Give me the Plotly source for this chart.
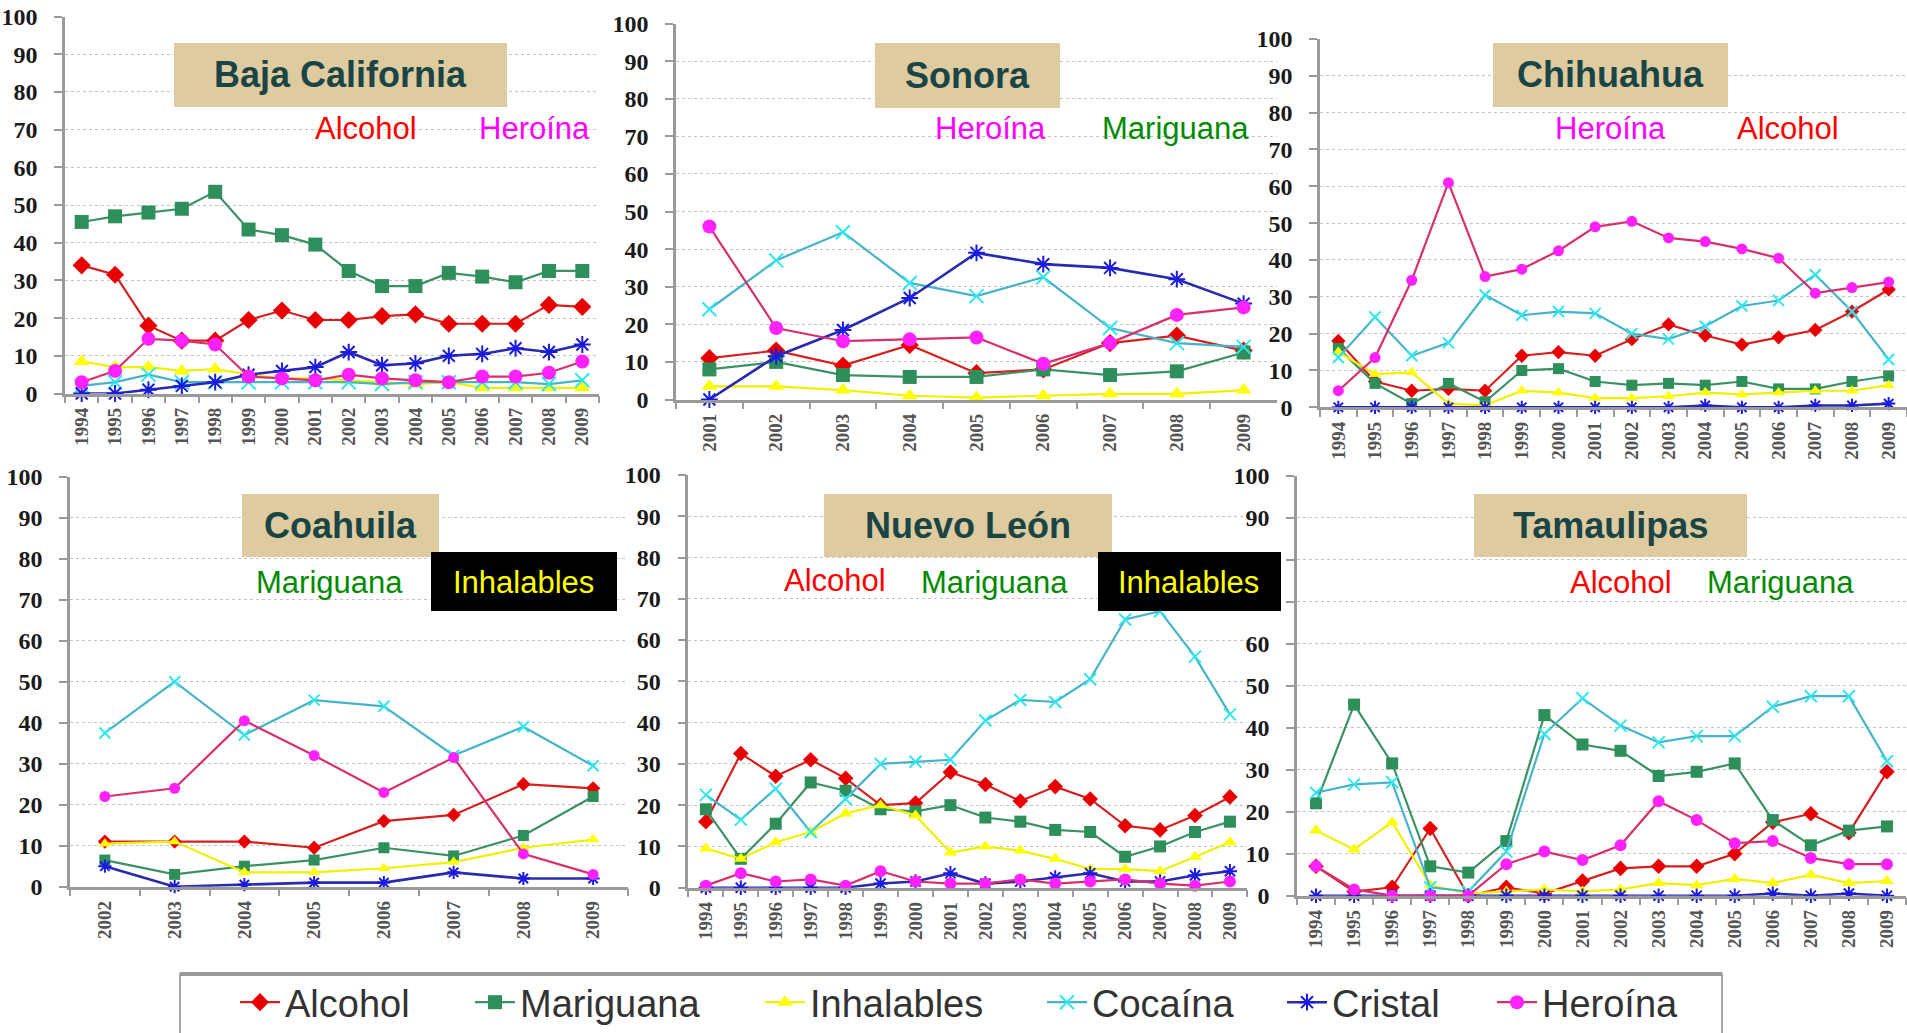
import plotly.graph_objects as go

W, H = 1907, 1033

# ---------------- DATA ----------------
series_names = ["Alcohol", "Mariguana", "Inhalables", "Cocaína", "Cristal", "Heroína"]

years_94 = [str(y) for y in range(1994, 2010)]
years_01 = [str(y) for y in range(2001, 2010)]
years_02 = [str(y) for y in range(2002, 2010)]

# Baja California 1994-2009
bc_alcohol = [34, 31.5, 18, 14, 14, 19.5, 22, 19.5, 19.5, 20.5, 21, 18.5, 18.5, 18.5, 23.5, 23]
bc_mariguana = [45.5, 47, 48, 49, 53.5, 43.5, 42, 39.5, 32.5, 28.5, 28.5, 32, 31, 29.5, 32.5, 32.5]
bc_inhalables = [8.5, 7, 7, 6, 6.5, 5, 4, 4, 3.5, 3, 2.5, 3, 1.5, 1.5, 1.5, 1.5]
bc_cocaina = [2, 3, 5, 3, 3, 3, 3, 3, 3, 2.5, 3, 3, 3, 3, 2.5, 3.5]
bc_cristal = [0, 0, 1, 2, 3, 5, 6, 7, 11, 7.5, 8, 10, 10.5, 12, 11, 13]
bc_heroina = [3, 6, 14.5, 14, 13, 4.5, 4, 3.5, 5, 4, 3.5, 3, 4.5, 4.5, 5.5, 8.5]

# Sonora 2001-2009
so_alcohol = [11, 13, 9, 14.5, 7, 8, 15, 17, 13]
so_mariguana = [8, 10, 6.5, 6, 6, 8, 6.5, 7.5, 12.5]
so_inhalables = [3.5, 3.5, 2.5, 1, 0.5, 1, 1.5, 1.5, 2.5]
so_cocaina = [24, 37, 44.5, 31, 27.5, 32.5, 19, 15, 14]
so_cristal = [0, 11.5, 18.5, 27, 39, 36, 35, 32, 25.5]
so_heroina = [46, 19, 15.5, 16, 16.5, 9.5, 15, 22.5, 24.5]

# Chihuahua 1994-2009
ch_alcohol = [18, 7, 4.5, 5, 4.5, 14, 15, 14, 18.5, 22.5, 19.5, 17, 19, 21, 26, 32]
ch_mariguana = [16, 6.5, 1, 6.5, 1.5, 10, 10.5, 7, 6, 6.5, 6, 7, 5, 5, 7, 8.5]
ch_inhalables = [15, 9, 9.5, 1, 0.5, 4.5, 4, 2.5, 2.5, 3, 4, 3.5, 4, 4.5, 4.5, 6]
ch_cocaina = [13.5, 24.5, 14, 17.5, 30.5, 25, 26, 25.5, 20, 18.5, 22, 27.5, 29, 36, 26, 13]
ch_cristal = [0, 0, 0, 0, 0, 0, 0, 0, 0, 0, 0.5, 0, 0, 0.5, 0.5, 1]
ch_heroina = [4.5, 13.5, 34.5, 61, 35.5, 37.5, 42.5, 49, 50.5, 46, 45, 43, 40.5, 31, 32.5, 34]

# Coahuila 2002-2009
co_alcohol = [11, 11, 11, 9.5, 16, 17.5, 25, 24]
co_mariguana = [6.5, 3, 5, 6.5, 9.5, 7.5, 12.5, 22]
co_inhalables = [10.5, 11, 3.5, 3.5, 4.5, 6, 9.5, 11.5]
co_cocaina = [37.5, 50, 37, 45.5, 44, 32, 39, 29.5]
co_cristal = [5, 0, 0.5, 1, 1, 3.5, 2, 2]
co_heroina = [22, 24, 40.5, 32, 23, 31.5, 8, 3]

# Nuevo León 1994-2009
nl_alcohol = [16, 32.5, 27, 31, 26.5, 20, 20.5, 28, 25, 21, 24.5, 21.5, 15, 14, 17.5, 22]
nl_mariguana = [19, 7, 15.5, 25.5, 23.5, 19, 18.5, 20, 17, 16, 14, 13.5, 7.5, 10, 13.5, 16]
nl_inhalables = [9.5, 7, 11, 13.5, 18, 20, 17.5, 8.5, 10, 9, 7, 4.5, 4.5, 4, 7.5, 11]
nl_cocaina = [22.5, 16.5, 24, 13.5, 21.5, 30, 30.5, 31, 40.5, 45.5, 45, 50.5, 65, 67, 56, 42]
nl_cristal = [0, 0, 0, 0, 0, 1, 1.5, 3.5, 1, 1.5, 2.5, 3.5, 1.5, 1.5, 3, 4]
nl_heroina = [0.5, 3.5, 1.5, 2, 0.5, 4, 1.5, 1, 1, 2, 1, 1.5, 2, 1, 0.5, 1.5]

# Tamaulipas 1994-2009
ta_alcohol = [7, 1, 2, 16, 0, 2, 0.5, 3.5, 6.5, 7, 7, 10, 17.5, 19.5, 15, 29.5]
ta_mariguana = [22, 45.5, 31.5, 7, 5.5, 13, 43, 36, 34.5, 28.5, 29.5, 31.5, 18, 12, 15.5, 16.5]
ta_inhalables = [15.5, 11, 17.5, 2.5, 0.5, 1, 1.5, 1, 1.5, 3, 2.5, 4, 3, 5, 3, 3.5]
ta_cocaina = [24.5, 26.5, 27, 2, 1, 10.5, 38.5, 47, 40.5, 36.5, 38, 38, 45, 47.5, 47.5, 32]
ta_cristal = [0, 0, 0, 0, 0, 0, 0, 0, 0, 0, 0, 0, 0.5, 0, 0.5, 0]
ta_heroina = [7, 1.5, 0, 0, 0, 7.5, 10.5, 8.5, 12, 22.5, 18, 12.5, 13, 9, 7.5, 7.5]

y_ticks = [0, 10, 20, 30, 40, 50, 60, 70, 80, 90, 100]
y_ticktext = ["0", "10", "20", "30", "40", "50", "60", "70", "80", "90", "100"]
# Tamaulipas: 70 and 80 are hidden behind the "Inhalables" box in the reference
y_ticktext_ta = ["0", "10", "20", "30", "40", "50", "60", "", "", "90", "100"]

# ---------------- STYLES ----------------
styles = {
    "Alcohol": dict(line="#d42020", symbol="diamond", mcolor="#e80000", lcol=None),
    "Mariguana": dict(line="#3a9264", symbol="square", mcolor="#2e8f5a", lcol=None),
    "Inhalables": dict(line="#f0f000", symbol="triangle-up", mcolor="#ffff00", lcol=None),
    "Cocaína": dict(line="#45b4c8", symbol="x-thin", mcolor="#30e6f0", lcol="#30e6f0"),
    "Cristal": dict(line="#2a2ab0", symbol="asterisk", mcolor="#1a1ae0", lcol="#1a1ae0"),
    "Heroína": dict(line="#d8306e", symbol="circle", mcolor="#ff22ff", lcol=None),
}

panels = [
    dict(title="Baja California", years=years_94,
         data=[bc_alcohol, bc_mariguana, bc_inhalables, bc_cocaina, bc_cristal, bc_heroina],
         xpx=(65, 599), ypx=(16.5, 393.5), msize=14, box=(174, 507, 43, 107), ttext=y_ticktext,
         labels=[("Alcohol", "#ff0000", 366, 128), ("Heroína", "#ff00ff", 534, 128)], black=None),
    dict(title="Sonora", years=years_01,
         data=[so_alcohol, so_mariguana, so_inhalables, so_cocaina, so_cristal, so_heroina],
         xpx=(676, 1277), ypx=(23.5, 399.5), msize=14, box=(875, 1060, 43, 108), ttext=y_ticktext,
         labels=[("Heroína", "#ff00ff", 990, 129), ("Mariguana", "#008a00", 1175, 129)], black=None),
    dict(title="Chihuahua", years=years_94,
         data=[ch_alcohol, ch_mariguana, ch_inhalables, ch_cocaina, ch_cristal, ch_heroina],
         xpx=(1320, 1907), ypx=(39, 407.3), msize=11, box=(1493, 1728, 43, 107), ttext=y_ticktext,
         labels=[("Heroína", "#ff00ff", 1610, 129), ("Alcohol", "#ff0000", 1788, 129)], black=None),
    dict(title="Coahuila", years=years_02,
         data=[co_alcohol, co_mariguana, co_inhalables, co_cocaina, co_cristal, co_heroina],
         xpx=(70, 628), ypx=(476.7, 886.7), msize=11, box=(242, 439, 494, 557), ttext=y_ticktext,
         labels=[("Mariguana", "#008a00", 329, 582)], black=(431, 617, 552, 611, 523, 582)),
    dict(title="Nuevo León", years=years_94,
         data=[nl_alcohol, nl_mariguana, nl_inhalables, nl_cocaina, nl_cristal, nl_heroina],
         xpx=(688.4, 1247.4), ypx=(475, 887.7), msize=12, box=(824, 1112, 494, 557), ttext=y_ticktext,
         labels=[("Alcohol", "#ff0000", 835, 580), ("Mariguana", "#008a00", 994, 582)],
         black=(1098, 1281, 552, 611, 1188, 582)),
    dict(title="Tamaulipas", years=years_94,
         data=[ta_alcohol, ta_mariguana, ta_inhalables, ta_cocaina, ta_cristal, ta_heroina],
         xpx=(1297, 1906), ypx=(475.7, 895.7), msize=12, box=(1474, 1747, 494, 557), ttext=y_ticktext_ta,
         labels=[("Alcohol", "#ff0000", 1621, 582), ("Mariguana", "#008a00", 1780, 582)], black=None),
]


def px_x(x):
    return x / W


def px_y(y):
    return 1 - y / H


fig = go.Figure()
legend_ids = ["legend", "legend2", "legend3", "legend4", "legend5", "legend6"]
legend_text_x = [283, 518, 808, 1090, 1330, 1540]

shapes = []
annotations = []
layout = {}

for pi, p in enumerate(panels):
    n = pi + 1
    xa = "x" if n == 1 else f"x{n}"
    ya = "y" if n == 1 else f"y{n}"
    for si, name in enumerate(series_names):
        st = styles[name]
        mk = dict(symbol=st["symbol"], size=p["msize"], color=st["mcolor"])
        if st["lcol"]:
            mk["line"] = dict(width=2, color=st["lcol"])
        fig.add_trace(go.Scatter(
            x=p["years"], y=p["data"][si], name=name, mode="lines+markers",
            line=dict(color=st["line"], width=2.2 if name != "Cristal" else 2.6),
            marker=mk, xaxis=xa, yaxis=ya, cliponaxis=False,
            showlegend=(pi == 0), legend=legend_ids[si], hoverinfo="x+y+name",
        ))
    x0, x1 = p["xpx"]
    ytop, ybot = p["ypx"]
    nyr = len(p["years"])
    layout["xaxis" if n == 1 else f"xaxis{n}"] = dict(
        domain=[px_x(x0), px_x(x1)], anchor=ya, type="category",
        range=[-0.5, nyr - 0.5], showgrid=False, zeroline=False, automargin=False,
        showline=True, linecolor="#9a9a9a", linewidth=2.5,
        ticks="outside", tickson="boundaries", ticklen=7, tickwidth=2, tickcolor="#9a9a9a",
        tickangle=-90, ticklabelstandoff=4,
        tickfont=dict(family="Liberation Serif", size=19, color="#555555", weight="bold"),
    )
    layout["yaxis" if n == 1 else f"yaxis{n}"] = dict(
        domain=[px_y(ybot), px_y(ytop)], anchor=xa, range=[0, 100], automargin=False,
        tickvals=y_ticks, ticktext=p["ttext"], showgrid=True, gridcolor="#c4c4c4", griddash="dot",
        gridwidth=1.3, zeroline=False, showline=True, linecolor="#9a9a9a", linewidth=2.5,
        ticks="outside", ticklen=8, tickwidth=2, tickcolor="#9a9a9a", ticklabelstandoff=12,
        tickfont=dict(family="Liberation Serif", size=24, color="#1a1a1a", weight="bold"),
    )
    bx0, bx1, by0, by1 = p["box"]
    shapes.append(dict(type="rect", xref="paper", yref="paper",
                       x0=px_x(bx0), x1=px_x(bx1), y0=px_y(by1), y1=px_y(by0),
                       fillcolor="#decba0", line=dict(width=0), layer="above"))
    annotations.append(dict(text=f"<b>{p['title']}</b>", xref="paper", yref="paper",
                            x=px_x((bx0 + bx1) / 2), y=px_y((by0 + by1) / 2),
                            xanchor="center", yanchor="middle", showarrow=False,
                            font=dict(family="Liberation Sans", size=36, color="#1b4545")))
    for (txt, col, cx, cy) in p["labels"]:
        annotations.append(dict(text=txt, xref="paper", yref="paper", x=px_x(cx), y=px_y(cy),
                                xanchor="center", yanchor="middle", showarrow=False,
                                font=dict(family="Liberation Sans", size=31, color=col)))
    if p["black"]:
        kx0, kx1, ky0, ky1, tx, ty = p["black"]
        shapes.append(dict(type="rect", xref="paper", yref="paper",
                           x0=px_x(kx0), x1=px_x(kx1), y0=px_y(ky1), y1=px_y(ky0),
                           fillcolor="#000000", line=dict(width=0), layer="above"))
        annotations.append(dict(text="Inhalables", xref="paper", yref="paper", x=px_x(tx), y=px_y(ty),
                                xanchor="center", yanchor="middle", showarrow=False,
                                font=dict(family="Liberation Sans", size=31, color="#ffff00")))

# legend frame
shapes.append(dict(type="rect", xref="paper", yref="paper",
                   x0=px_x(180), x1=px_x(1722), y0=px_y(1045), y1=px_y(974),
                   fillcolor="rgba(255,255,255,0)", line=dict(width=1.5, color="#8a8a8a"), layer="below"))
shapes.append(dict(type="line", xref="paper", yref="paper",
                   x0=px_x(180), x1=px_x(1722), y0=px_y(974), y1=px_y(974),
                   line=dict(width=4, color="#9a9a9a"), layer="above"))

for i, lid in enumerate(legend_ids):
    layout[lid] = dict(x=px_x(legend_text_x[i] - 48), y=px_y(971), xanchor="left", yanchor="top",
                       orientation="h", bgcolor="rgba(0,0,0,0)", borderwidth=0,
                       font=dict(family="Liberation Sans", size=38, color="#333333"),
                       itemwidth=40, tracegroupgap=0)

fig.update_layout(
    width=W, height=H, autosize=False,
    margin=dict(l=0, r=0, t=0, b=0, pad=0, autoexpand=False),
    paper_bgcolor="white", plot_bgcolor="rgba(0,0,0,0)",
    shapes=shapes, annotations=annotations, **layout,
)

fig.write_html("out.html", config={"displayModeBar": False},
               post_script="document.body.style.margin='0';document.body.style.overflow='hidden';")
